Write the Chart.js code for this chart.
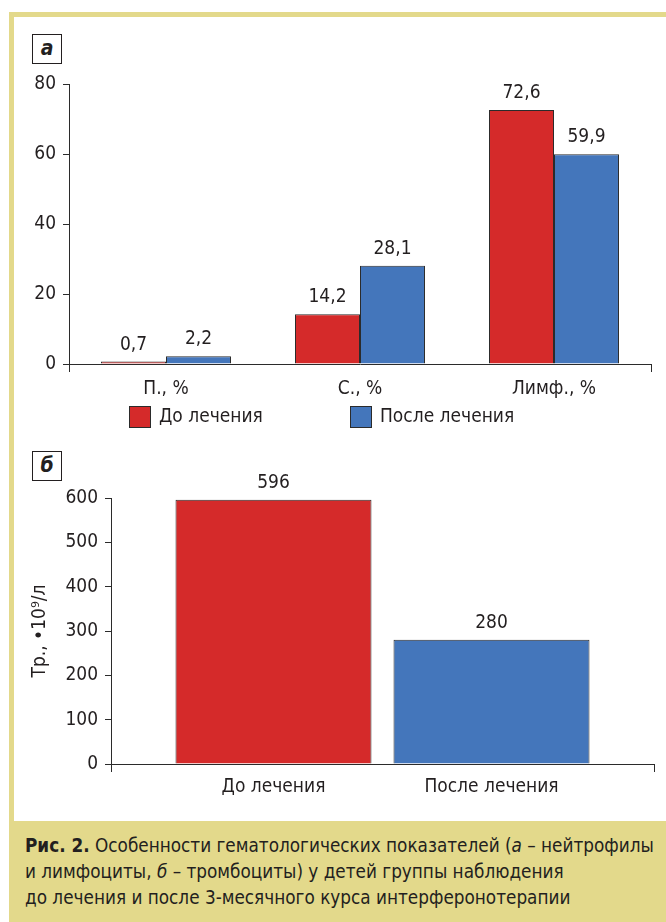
<!DOCTYPE html>
<html lang="ru">
<head>
<meta charset="utf-8">
<script src="https://cdn.jsdelivr.net/npm/chart.js@4.4.1/dist/chart.umd.min.js"></script>
<style>
  html, body { margin: 0; padding: 0; background: #ffffff; }
  #page { position: relative; width: 666px; height: 922px; overflow: hidden; background: #ffffff;
          font-family: "DejaVu Sans Condensed", "Liberation Sans Narrow", sans-serif; color: #231f20; }
  #frameTop { position: absolute; left: 9px; top: 12px; width: 657px; height: 5px; background: #e3d98b; }
  #frameLeft { position: absolute; left: 9px; top: 12px; width: 5px; height: 810px; background: #e3d98b; }
  #caption { position: absolute; left: 9px; top: 821px; width: 657px; height: 101px; background: #e3d98b; }
  #captionText { position: absolute; left: 25px; top: 833px; font-size: 19.5px; line-height: 26px; color: #231f20;
                 white-space: nowrap; transform: scaleX(0.962); transform-origin: 0 0; }
  .panelTag { position: absolute; width: 28px; height: 28px; border: 1px solid #231f20; background: #fff;
              font-weight: bold; font-style: italic; font-size: 21px; line-height: 27px; text-align: center; }
  canvas { position: absolute; left: 0; }
</style>
</head>
<body>
<div id="page">
  <div id="frameTop"></div>
  <div id="frameLeft"></div>
  <div id="caption"></div>
  <div id="captionText"><b>Рис. 2.</b> Особенности гематологических показателей (<i>а</i> – нейтрофилы<br>и лимфоциты, <i>б</i> – тромбоциты) у детей группы наблюдения<br>до лечения и после 3-месячного курса интерферонотерапии</div>
  <div class="panelTag" style="left:32px; top:34px;">а</div>
  <div class="panelTag" style="left:32px; top:451px;">б</div>
  <canvas id="chartA" width="666" height="440" style="top:0px; width:666px; height:440px;"></canvas>
  <canvas id="chartB" width="666" height="390" style="top:430px; width:666px; height:390px;"></canvas>
</div>
<script>
// ---------- data ----------
const seriesNames = ['До лечения', 'После лечения'];
const cellCategories = ['П., %', 'С., %', 'Лимф., %'];
const cellsBefore = [0.7, 14.2, 72.6];
const cellsAfter = [2.2, 28.1, 59.9];
const cellTicks = [0, 20, 40, 60, 80];
const plateletValues = [596, 280];
const plateletTicks = [0, 100, 200, 300, 400, 500, 600];
const plateletAxisTitle = 'Тр., •10⁹/л';

// ---------- styles ----------
const RED = '#d52a2a';
const BLUE = '#4476bb';
const EDGE = '#2b2b2b';
const INK = '#231f20';
const FONT = '"DejaVu Sans Condensed", "Liberation Sans Narrow", sans-serif';
const FS = 19;

const fmt = v => String(v).replace('.', ',');

const valueLabels = {
  id: 'valueLabels',
  afterDatasetsDraw(chart) {
    const ctx = chart.ctx;
    ctx.save();
    ctx.font = FS + 'px ' + FONT;
    ctx.fillStyle = INK;
    ctx.textAlign = 'center';
    ctx.textBaseline = 'alphabetic';
    chart.data.datasets.forEach((ds, di) => {
      chart.getDatasetMeta(di).data.forEach((el, i) => {
        ctx.fillText(fmt(ds.data[i]), el.x, el.y - 12);
      });
    });
    ctx.restore();
  }
};

const legendA = {
  id: 'legendA',
  afterDraw(chart, args, opts) {
    const ctx = chart.ctx;
    ctx.save();
    ctx.font = FS + 'px ' + FONT;
    ctx.textBaseline = 'middle';
    ctx.textAlign = 'left';
    chart.data.datasets.forEach((ds, di) => {
      const x = opts.xs[di];
      ctx.fillStyle = ds.backgroundColor;
      ctx.fillRect(x, opts.y, 22, 22);
      ctx.lineWidth = 1;
      ctx.strokeStyle = EDGE;
      ctx.strokeRect(x + 0.5, opts.y + 0.5, 21, 21);
      ctx.fillStyle = INK;
      ctx.fillText(ds.label, x + 30, opts.y + 11);
    });
    ctx.restore();
  }
};

const barLabelsB = {
  id: 'barLabelsB',
  afterDraw(chart) {
    const ctx = chart.ctx;
    ctx.save();
    ctx.font = FS + 'px ' + FONT;
    ctx.fillStyle = INK;
    ctx.textAlign = 'center';
    ctx.textBaseline = 'middle';
    chart.data.datasets.forEach((ds, di) => {
      const el = chart.getDatasetMeta(di).data[0];
      ctx.fillText(ds.label, el.x, chart.chartArea.bottom + 23);
    });
    ctx.restore();
  }
};

const endTicks = c => (c.index === undefined || c.index === 0) ? EDGE : 'rgba(0,0,0,0)';

// ---------- chart a ----------
new Chart(document.getElementById('chartA'), {
  type: 'bar',
  data: {
    labels: cellCategories,
    datasets: [
      { label: seriesNames[0], data: cellsBefore, backgroundColor: RED, borderColor: EDGE, borderWidth: 1 },
      { label: seriesNames[1], data: cellsAfter, backgroundColor: BLUE, borderColor: EDGE, borderWidth: 1 }
    ]
  },
  options: {
    responsive: false, animation: false,
    layout: { padding: { top: 84, right: 15, left: 0, bottom: 0 } },
    datasets: { bar: { categoryPercentage: 0.67, barPercentage: 1.0 } },
    plugins: { legend: { display: false }, tooltip: { enabled: false },
               legendA: { xs: [129, 350], y: 406 } },
    scales: {
      x: {
        offset: true,
        grid: { drawOnChartArea: false, color: endTicks, tickLength: 8, offset: true },
        border: { display: true, color: EDGE, width: 1 },
        ticks: { color: INK, font: { family: FONT, size: FS }, padding: 6, maxRotation: 0 },
        afterFit(s) { s.height = 76; }
      },
      y: {
        min: 0, max: 80,
        afterBuildTicks(s) { s.ticks = cellTicks.map(v => ({ value: v })); },
        grid: { drawOnChartArea: false, color: EDGE, tickLength: 6 },
        border: { display: true, color: EDGE, width: 1 },
        ticks: { color: INK, font: { family: FONT, size: FS }, padding: 7 },
        afterFit(s) { s.width = 69; }
      }
    }
  },
  plugins: [valueLabels, legendA]
});

// ---------- chart б ----------
new Chart(document.getElementById('chartB'), {
  type: 'bar',
  data: {
    labels: [''],
    datasets: [
      { label: seriesNames[0], data: [plateletValues[0]], backgroundColor: RED, borderColor: EDGE, borderWidth: 1 },
      { label: seriesNames[1], data: [plateletValues[1]], backgroundColor: BLUE, borderColor: EDGE, borderWidth: 1 }
    ]
  },
  options: {
    responsive: false, animation: false,
    layout: { padding: { top: 68, right: 12, left: 0, bottom: 0 } },
    datasets: { bar: { categoryPercentage: 0.803, barPercentage: 0.899 } },
    plugins: { legend: { display: false }, tooltip: { enabled: false } },
    scales: {
      x: {
        offset: true,
        grid: { drawOnChartArea: false, color: endTicks, tickLength: 8, offset: true },
        border: { display: true, color: EDGE, width: 1 },
        ticks: { display: false },
        afterFit(s) { s.height = 56; }
      },
      y: {
        min: 0, max: 600,
        afterBuildTicks(s) { s.ticks = plateletTicks.map(v => ({ value: v })); },
        grid: { drawOnChartArea: false, color: EDGE, tickLength: 6 },
        border: { display: true, color: EDGE, width: 1 },
        ticks: { color: INK, font: { family: FONT, size: FS }, padding: 7 },
        title: { display: true, text: plateletAxisTitle, color: INK, font: { family: FONT, size: FS }, padding: { top: 29 } },
        afterFit(s) { s.width = 111; }
      }
    }
  },
  plugins: [valueLabels, barLabelsB]
});
</script>
</body>
</html>
